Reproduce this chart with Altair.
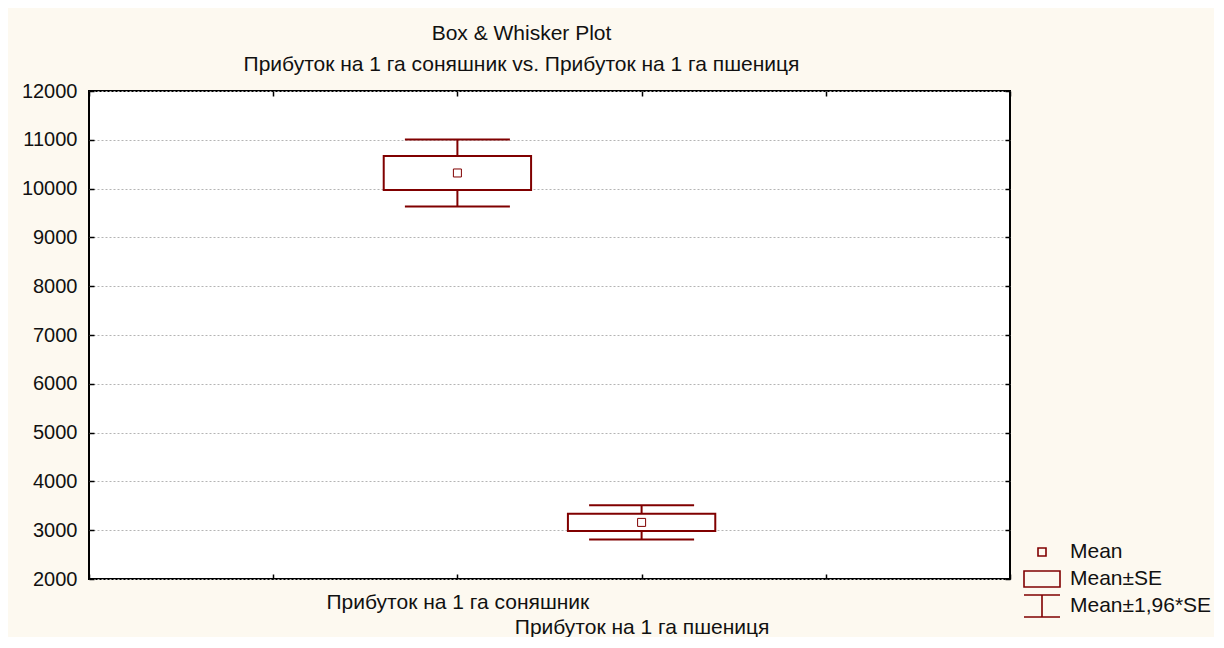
import altair as alt
import pandas as pd

# ---- data ----
categories = ["Прибуток на 1 га соняшник", "Прибуток на 1 га пшениця"]
means = [10320, 3160]
std_errors = [350, 178]
y_ticks = [2000, 3000, 4000, 5000, 6000, 7000, 8000, 9000, 10000, 11000, 12000]
x_ticks = [0, 1, 2, 3, 4, 5]
legend_labels = ["Mean", "Mean±SE", "Mean±1,96*SE"]
title_lines = ["Box & Whisker Plot",
               "Прибуток на 1 га соняшник vs. Прибуток на 1 га пшениця"]

df = pd.DataFrame({"category": categories, "mean": means, "se": std_errors})
df["pos"] = df.index + 2          # Statistica places the groups at 2, 3 on a 0..5 axis
df["entry"] = legend_labels[0]

MAROON = "#800000"
FONT = "Liberation Sans"
FS = 21
FS_Y = 20

xs = alt.Scale(domain=[0, 5], nice=False, zero=False)
ys = alt.Scale(domain=[2000, 12000], nice=False, zero=False)

label_expr = (f"datum.value == 2 ? '{categories[0]}' : "
              f"datum.value == 3 ? ['', '{categories[1]}'] : ''")

bottom_axis = alt.Axis(orient="bottom", values=x_ticks, offset=-5, tickSize=5, tickWidth=1.5,
                       tickColor="black", domain=False, grid=False, title=None,
                       labelExpr=label_expr, labelPadding=12, labelLineHeight=25,
                       labelOverlap=False, labelFlush=False, labelBound=False, labelLimit=0,
                       labelFont=FONT, labelFontSize=FS, labelColor="#111")
left_axis = alt.Axis(orient="left", values=y_ticks, format="d", offset=-5, tickSize=5,
                     tickWidth=1.5, tickColor="black", domain=False, grid=True,
                     gridColor="#b4b4b4", gridDash=[2, 2], gridWidth=1, title=None,
                     labelPadding=12, labelFont=FONT, labelFontSize=FS_Y, labelColor="#111",
                     labelOverlap=False, labelFlush=False)
top_axis = alt.Axis(orient="top", values=x_ticks, offset=-5, tickSize=5, tickWidth=1.5,
                    tickColor="black", domain=False, grid=False, labels=False, title=None)
right_axis = alt.Axis(orient="right", values=y_ticks, offset=-5, tickSize=5, tickWidth=1.5,
                      tickColor="black", domain=False, grid=False, labels=False, title=None)

base = alt.Chart(df).transform_calculate(
    box_lo="datum.mean - datum.se",
    box_hi="datum.mean + datum.se",
    w_lo="datum.mean - 1.96 * datum.se",
    w_hi="datum.mean + 1.96 * datum.se",
    box_l="datum.pos - 0.4",
    box_r="datum.pos + 0.4",
    cap_l="datum.pos - 0.285",
    cap_r="datum.pos + 0.285",
)

whisker = base.mark_rule(color=MAROON, strokeWidth=2).encode(
    x=alt.X("pos:Q", scale=xs, axis=bottom_axis),
    y=alt.Y("w_lo:Q", scale=ys, axis=left_axis),
    y2="w_hi:Q",
)
cap_hi = base.mark_rule(color=MAROON, strokeWidth=2).encode(
    x=alt.X("cap_l:Q", scale=xs, axis=None), x2="cap_r:Q",
    y=alt.Y("w_hi:Q", scale=ys, axis=None),
)
cap_lo = base.mark_rule(color=MAROON, strokeWidth=2).encode(
    x=alt.X("cap_l:Q", scale=xs, axis=None), x2="cap_r:Q",
    y=alt.Y("w_lo:Q", scale=ys, axis=None),
)
box = base.mark_rect(fill="white", stroke=MAROON, strokeWidth=2).encode(
    x=alt.X("box_l:Q", scale=xs, axis=None), x2="box_r:Q",
    y=alt.Y("box_lo:Q", scale=ys, axis=None), y2="box_hi:Q",
)

# legend glyphs; the leading move-to points give every entry the same bounding box
pad = "M-1.8,-1.2M1.8,1.2"
paths = [
    pad + "M-0.4,-0.4H0.4V0.4H-0.4Z",
    pad + "M-1.8,-0.8H1.8V0.8H-1.8Z",
    pad + "M-1.8,-1.1H1.8M0,-1.1V1.1M-1.8,1.1H1.8",
]
mean_pt = base.mark_point(filled=False, color=MAROON, strokeWidth=1, size=400, opacity=1).encode(
    x=alt.X("pos:Q", scale=xs, axis=None),
    y=alt.Y("mean:Q", scale=ys, axis=None),
    shape=alt.Shape("entry:N", scale=alt.Scale(domain=legend_labels, range=paths),
                    legend=alt.Legend(orient="none", legendX=942, legendY=450, title=None,
                                      symbolSize=400, symbolStrokeColor=MAROON,
                                      symbolFillColor="transparent", symbolStrokeWidth=1.6,
                                      labelFont=FONT, labelFontSize=FS, labelColor="#111",
                                      labelOffset=17, rowPadding=-6, padding=0)),
)
frame_ticks = base.mark_point(opacity=0).encode(
    x=alt.X("pos:Q", scale=xs, axis=top_axis),
    y=alt.Y("mean:Q", scale=ys, axis=right_axis),
)

chart = alt.layer(whisker, cap_hi, cap_lo, box, mean_pt, frame_ticks).resolve_axis(
    x="independent", y="independent"
).properties(
    width=921, height=488,
    title=alt.TitleParams(text=title_lines, font=FONT, fontSize=FS, fontWeight="normal",
                          color="#111", anchor="middle", dx=-28, lineHeight=31, offset=6),
    autosize=alt.AutoSizeParams(type="none"),
    padding={"left": 81, "top": 83, "right": 204, "bottom": 58},
    background="#fdf9f0",
).configure_view(
    fill="white", stroke="black", strokeWidth=2
)

chart.save("out.html", embed_options={"renderer": "svg", "actions": False})
